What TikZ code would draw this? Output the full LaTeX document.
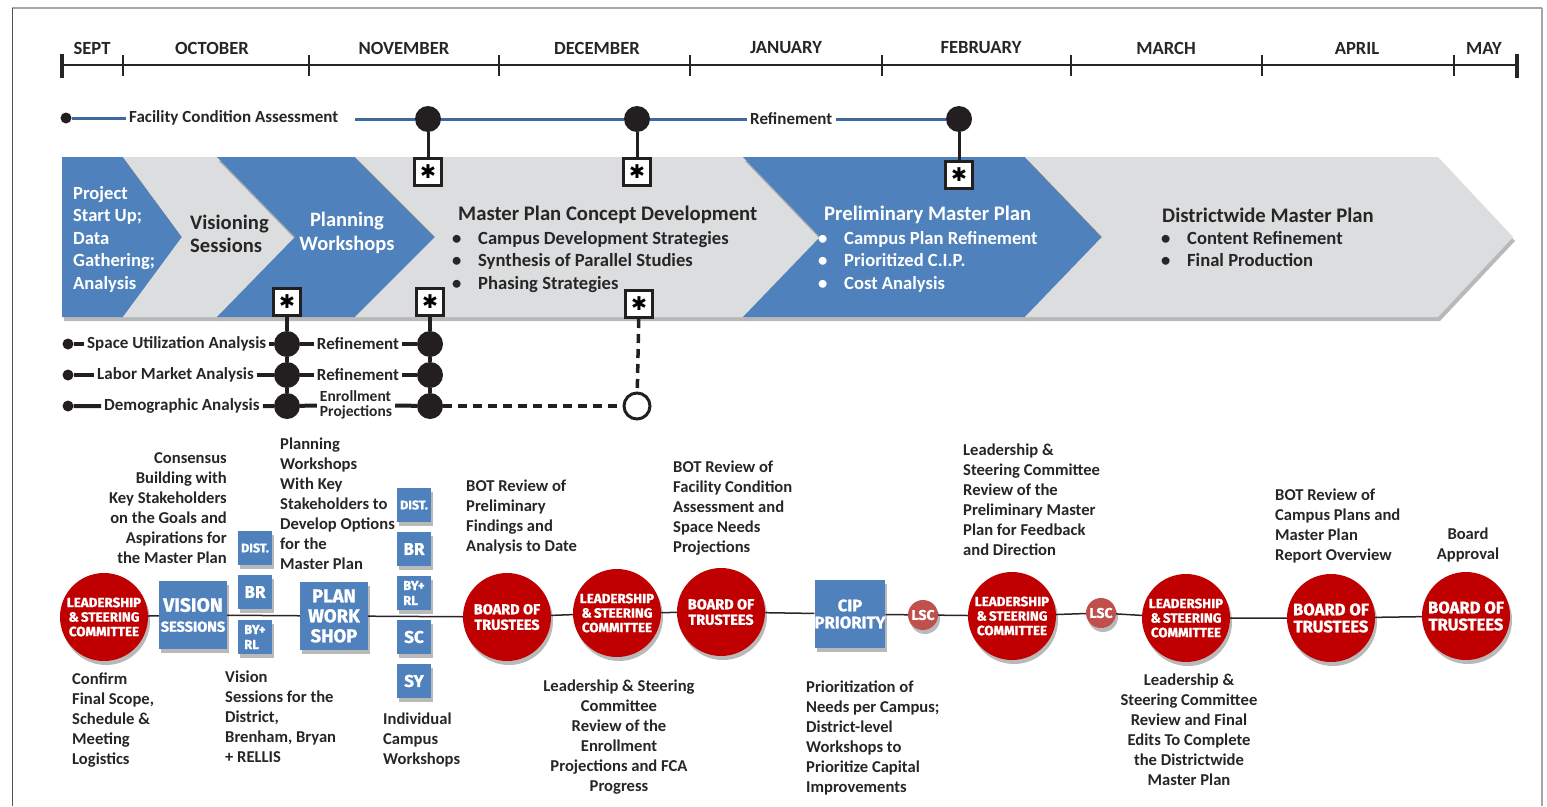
\documentclass[tikz,border=0pt]{standalone}
\usepackage{fontspec}
\setmainfont{Carlito}
\newfontfamily\heavyfont{Fira Sans}[BoldFeatures={FakeBold=1.2}]
\newfontfamily\symfont{DejaVu Sans}
\usetikzlibrary{shadows}
\definecolor{chevblue}{HTML}{4F81BD}
\definecolor{chevgray}{HTML}{DCDDDE}
\definecolor{bordred}{HTML}{C00000}
\definecolor{lscred}{HTML}{C0504D}
\definecolor{linkblue}{HTML}{3D6A9E}
\definecolor{ink}{HTML}{262626}
\definecolor{dotblack}{HTML}{231F20}
\newcommand{\chevitem}[1]{\makebox[26pt][l]{\textbullet}#1}

\begin{document}
\begin{tikzpicture}[x=1pt, y=-1pt, node distance=44pt,
  month/.style={font=\bfseries\fontsize{18.6}{20}\selectfont, text=ink},
  note/.style={font=\bfseries\fontsize{16.6}{20}\selectfont, text=ink, inner sep=0pt, align=left},
  rowtext/.style={font=\bfseries\fontsize{17}{13}\selectfont, text=ink, inner sep=3pt, align=left},
  chevtext/.style={font=\bfseries\fontsize{18.6}{22.5}\selectfont, inner sep=0pt, align=left},
  chevtitle/.style={font=\bfseries\fontsize{20.7}{22.5}\selectfont, inner sep=0pt, align=left},
  bigdot/.style={circle, fill=dotblack, minimum size=26pt, inner sep=0pt},
  smalldot/.style={circle, fill=dotblack, minimum size=11pt, inner sep=0pt},
  opendot/.style={circle, draw=dotblack, line width=3pt, fill=white, minimum size=26pt, inner sep=0pt},
  starbox/.style={draw=dotblack, line width=3pt, fill=white, minimum size=27pt, inner sep=0pt, font=\symfont\bfseries\fontsize{19}{19}\selectfont},
  fcaline/.style={line width=3pt, color=linkblue},
  rowline/.style={line width=4pt, color=dotblack},
  softshadow/.style={drop shadow={shadow xshift=2pt, shadow yshift=-4pt, opacity=.55}},
  board/.style={circle, fill=bordred, minimum size=88pt, inner sep=0pt, text=white, align=center, font=\heavyfont\bfseries\fontsize{13.4}{14.5}\selectfont, softshadow},
  bluebox/.style={fill=chevblue, minimum size=68pt, inner sep=0pt, text=white, align=center, font=\heavyfont\bfseries\fontsize{18.5}{20}\selectfont, softshadow},
  tagbox/.style={fill=chevblue, minimum size=34pt, inner sep=0pt, text=white, align=center, font=\heavyfont\bfseries\fontsize{17}{18}\selectfont, softshadow},
  lscdot/.style={circle, fill=lscred, minimum size=30pt, inner sep=0pt, text=white, font=\heavyfont\bfseries\fontsize{14}{14}\selectfont, softshadow}
]
\useasboundingbox (0,0) rectangle (1547,806);
\draw[gray!70, line width=1.5pt] (12,8) -- (1542,8);
\draw[ink!80, line width=1pt] (12,8) -- (12,806);
\draw[gray!70, line width=2pt] (1542,8) -- (1542,806);

\draw[ink, line width=2pt] (62,65) -- (1517,65);
\foreach \x in {123,309,499,690,882,1071,1262,1454}
  \draw[ink, line width=2.5pt] (\x,55) -- (\x,76);
\draw[ink, line width=3.5pt] (62,54) -- (62,78);
\draw[ink, line width=3.5pt] (1517,54) -- (1517,78);
\foreach \m/\x in {SEPT/92, OCTOBER/212, NOVEMBER/404, DECEMBER/597, JANUARY/786, FEBRUARY/981, MARCH/1166, APRIL/1357, MAY/1484}
  \node[month] at (\x,48) {\m};

\fill[chevblue, softshadow] (62,157) -- (123,157) -- (182,237) -- (123,317) -- (62,317) -- cycle;
\fill[chevgray, softshadow] (123,157) -- (217,157) -- (295,237) -- (217,317) -- (123,317) -- (182,237) -- cycle;
\fill[chevblue, softshadow] (217,157) -- (355,157) -- (435,237) -- (355,317) -- (217,317) -- (295,237) -- cycle;
\fill[chevgray, softshadow] (355,157) -- (743,157) -- (820,237) -- (743,317) -- (355,317) -- (435,237) -- cycle;
\fill[chevblue, softshadow] (743,157) -- (1025,157) -- (1102,237) -- (1025,317) -- (743,317) -- (820,237) -- cycle;
\fill[chevgray, softshadow] (1025,157) -- (1438,157) -- (1513,237) -- (1438,317) -- (1025,317) -- (1102,237) -- cycle;

\node (proj) [chevtext, text=white, anchor=north west] at (73,186) {Project\\Start Up;\\Data\\Gathering;\\Analysis};
\node (visi) [chevtext, text=ink, anchor=north west, font=\bfseries\fontsize{20.6}{23}\selectfont] at (190,215) {Visioning\\Sessions};
\node (plan) [chevtext, text=white, align=center, font=\bfseries\fontsize{20.5}{24}\selectfont] at (347,233) {Planning\\Workshops};
\node (mpcd) [chevtitle, text=ink, anchor=west] at (458,215) {Master Plan Concept Development};
\node (mpcdlist) [chevtext, text=ink, anchor=north west] at (452,231) {\chevitem{Campus Development Strategies}\\\chevitem{Synthesis of Parallel Studies}\\\chevitem{Phasing Strategies}};
\node (prel) [chevtitle, text=white, anchor=west] at (824,215) {Preliminary Master Plan};
\node (prellist) [chevtext, text=white, anchor=north west] at (818,231) {\chevitem{Campus Plan Refinement}\\\chevitem{Prioritized C.I.P.}\\\chevitem{Cost Analysis}};
\node (dist) [chevtitle, text=ink, anchor=west] at (1162,215) {Districtwide Master Plan};
\node (distlist) [chevtext, text=ink, anchor=north west] at (1161,231) {\chevitem{Content Refinement}\\\chevitem{Final Production}};

\node (fca0) [smalldot] at (66,118) {};
\node (fcatxt) [rowtext, anchor=west] at (126,118) {Facility Condition Assessment};
\coordinate (fcaS) at (355,119);
\node (fcaA) [bigdot] at (428,119) {};
\node (fcaB) [bigdot] at (637,119) {};
\node (reftxt) [rowtext, anchor=west] at (747,119) {Refinement};
\node (fcaC) [bigdot] at (959,119) {};
\draw[fcaline] (fca0) -- (fcatxt);
\draw[fcaline] (fcaS) -- (fcaA) -- (fcaB) -- (reftxt);
\draw[fcaline] (reftxt) -- (fcaC);

\node (starA) [starbox] at (428,172) {✱};
\node (starB) [starbox] at (637,172) {✱};
\node (starC) [starbox] at (959,175) {✱};
\node (starD) [starbox] at (287,302) {✱};
\node (starE) [starbox] at (430,302) {✱};
\node (starF) [starbox] at (639,304) {✱};
\draw[rowline, line width=3pt] (fcaA) -- (starA);
\draw[rowline, line width=3pt] (fcaB) -- (starB);
\draw[rowline, line width=3pt] (fcaC) -- (starC);

\node (sua0) [smalldot] at (68,344) {};
\node (suatxt) [rowtext, anchor=west] at (84,344) {Space Utilization Analysis};
\node (suaA) [bigdot] at (287,344) {};
\node (suaref) [rowtext] at (358,344) {Refinement};
\node (suaB) [bigdot] at (430,344) {};
\node (lmk0) [smalldot] at (68,375) {};
\node (lmktxt) [rowtext, anchor=west] at (94,375) {Labor Market Analysis};
\node (lmkA) [bigdot] at (287,375) {};
\node (lmkref) [rowtext] at (358,375) {Refinement};
\node (lmkB) [bigdot] at (430,375) {};
\node (dem0) [smalldot] at (68,406) {};
\node (demtxt) [rowtext, anchor=west] at (101,406) {Demographic Analysis};
\node (demA) [bigdot] at (287,406) {};
\node (demref) [rowtext, font=\bfseries\fontsize{15.5}{14.5}\selectfont] at (356,405) {Enrollment\\Projections};
\node (demB) [bigdot] at (430,406) {};
\node (enr) [opendot] at (637,406) {};
\draw[rowline] (sua0) -- (suatxt) -- (suaA) -- (suaref) -- (suaB);
\draw[rowline] (lmk0) -- (lmktxt) -- (lmkA) -- (lmkref) -- (lmkB);
\draw[rowline] (dem0) -- (demtxt) -- (demA) -- (demref) -- (demB);
\draw[rowline] (starD) -- (suaA) -- (lmkA) -- (demA);
\draw[rowline] (starE) -- (suaB) -- (lmkB) -- (demB);
\draw[rowline, line width=3.5pt, dash pattern=on 9pt off 6pt] (demB) -- (enr);
\draw[rowline, line width=3.5pt, dash pattern=on 9pt off 6pt] (starF) -- (enr);

\node (ls1) [board] at (104,617) {LEADERSHIP\\\&\,STEERING\\COMMITTEE};
\node (vsn) [bluebox] at (193,615) {{\fontsize{19.3}{19}\selectfont VISION}\\{\fontsize{14.5}{17}\selectfont SESSIONS}};
\node (d1) [tagbox, font=\heavyfont\bfseries\fontsize{12.5}{14}\selectfont] at (255,548) {DIST.};
\node (br1) [tagbox, below of=d1] {BR};
\node (byrl1) [tagbox, below of=br1, node distance=45pt, align=left, font=\heavyfont\bfseries\fontsize{13}{15}\selectfont] {BY+\\RL};
\node (pwsb) [bluebox] at (334,616) {PLAN\\WORK\\SHOP};
\node (d2) [tagbox, font=\heavyfont\bfseries\fontsize{12.5}{14}\selectfont] at (414,505) {DIST.};
\node (br2) [tagbox, below of=d2] {BR};
\node (byrl2) [tagbox, below of=br2, align=left, font=\heavyfont\bfseries\fontsize{13}{15}\selectfont] {BY+\\RL};
\node (sc2) [tagbox, below of=byrl2] {SC};
\node (sy2) [tagbox, below of=sc2] {SY};
\node (bt1) [board, font=\heavyfont\bfseries\fontsize{14.5}{15.5}\selectfont] at (507,617) {BOARD OF\\TRUSTEES};
\node (ls2) [board] at (617,613) {LEADERSHIP\\\&\,STEERING\\COMMITTEE};
\node (bt2) [board, font=\heavyfont\bfseries\fontsize{14.5}{15.5}\selectfont] at (721,612) {BOARD OF\\TRUSTEES};
\node (cipb) [bluebox, font=\heavyfont\bfseries\fontsize{16.7}{17}\selectfont] at (850,614) {CIP\\PRIORITY};
\node (lsc1) [lscdot] at (923,615) {LSC};
\node (ls3) [board] at (1012,616) {LEADERSHIP\\\&\,STEERING\\COMMITTEE};
\node (lsc2) [lscdot] at (1101,613) {LSC};
\node (ls4) [board] at (1186,618) {LEADERSHIP\\\&\,STEERING\\COMMITTEE};
\node (bt3) [board, font=\heavyfont\bfseries\fontsize{16.6}{17}\selectfont] at (1331,618) {BOARD OF\\TRUSTEES};
\node (bt4) [board, font=\heavyfont\bfseries\fontsize{16.6}{17}\selectfont] at (1466,616) {BOARD OF\\TRUSTEES};
\draw[ink, line width=1.5pt] (ls1) -- (vsn) -- (pwsb) -- (bt1) -- (ls2) -- (bt2) -- (cipb) -- (lsc1) -- (ls3) -- (lsc2) -- (ls4) -- (bt3) -- (bt4);

\node (cons) [note, align=right, anchor=north east] at (227,452) {Consensus\\Building with\\Key Stakeholders\\on the Goals and\\Aspirations for\\the Master Plan};
\node (pwsn) [note, anchor=north west] at (280,438) {Planning\\Workshops\\With Key\\Stakeholders to\\Develop Options\\for the\\Master Plan};
\node (conf) [note, anchor=north west] at (72,673) {Confirm\\Final Scope,\\Schedule \&\\Meeting\\Logistics};
\node (visn) [note, anchor=north west] at (225,671) {Vision\\Sessions for the\\District,\\Brenham, Bryan\\+ RELLIS};
\node (indiv) [note, anchor=north west] at (383,713) {Individual\\Campus\\Workshops};
\node (botpre) [note, anchor=north west] at (466,480) {BOT Review of\\Preliminary\\Findings and\\Analysis to Date};
\node (lscenr) [note, align=center, anchor=north] at (619,680) {Leadership \& Steering\\Committee\\Review of the\\Enrollment\\Projections and FCA\\Progress};
\node (botfca) [note, anchor=north west] at (673,461) {BOT Review of\\Facility Condition\\Assessment and\\Space Needs\\Projections};
\node (cipn) [note, anchor=north west] at (806,681) {Prioritization of\\Needs per Campus;\\District-level\\Workshops to\\Prioritize Capital\\Improvements};
\node (lscpre) [note, anchor=north west] at (963,444) {Leadership \&\\Steering Committee\\Review of the\\Preliminary Master\\Plan for Feedback\\and Direction};
\node (lscfin) [note, align=center, anchor=north] at (1189,674) {Leadership \&\\Steering Committee\\Review and Final\\Edits To Complete\\the Districtwide\\Master Plan};
\node (botcamp) [note, anchor=north west] at (1275,489) {BOT Review of\\Campus Plans and\\Master Plan\\Report Overview};
\node (appr) [note, align=center, anchor=north] at (1468,528) {Board\\Approval};
\end{tikzpicture}
\end{document}
